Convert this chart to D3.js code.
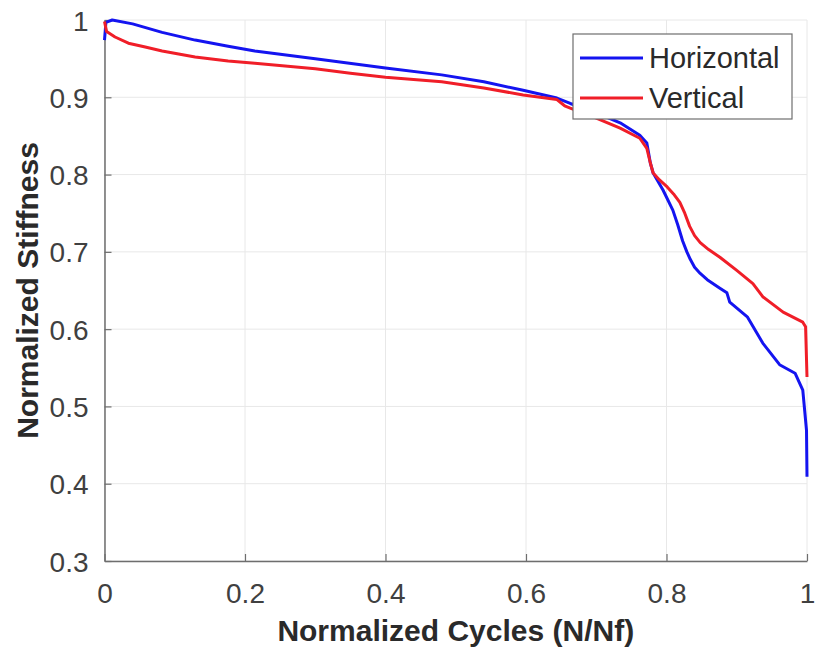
<!DOCTYPE html>
<html>
<head>
<meta charset="utf-8">
<script src="https://cdn.jsdelivr.net/npm/d3@7"></script>
<style>
  html, body { margin: 0; padding: 0; background: #fff; }
  svg { display: block; }
  text { font-family: "Liberation Sans", Arial, Helvetica, sans-serif; }
</style>
</head>
<body>
<svg id="chart" width="817" height="654"></svg>
<script>
// ---- Data ----
const horizontalX = [0, 0.002, 0.011, 0.04, 0.082, 0.129, 0.176, 0.214, 0.30, 0.40, 0.48, 0.54, 0.596, 0.644, 0.663, 0.70, 0.734, 0.762, 0.772, 0.777, 0.781, 0.795, 0.809, 0.816, 0.823, 0.829, 0.834, 0.840, 0.848, 0.858, 0.876, 0.886, 0.890, 0.915, 0.937, 0.961, 0.983, 0.994, 0.9993, 1.0];
const horizontalY = [0.974, 0.997, 1.0, 0.995, 0.984, 0.974, 0.966, 0.960, 0.950, 0.938, 0.929, 0.920, 0.909, 0.899, 0.892, 0.880, 0.867, 0.851, 0.841, 0.815, 0.802, 0.780, 0.754, 0.735, 0.714, 0.700, 0.690, 0.680, 0.672, 0.664, 0.653, 0.647, 0.635, 0.616, 0.582, 0.554, 0.543, 0.521, 0.469, 0.409];

const verticalX = [0, 0.003, 0.015, 0.034, 0.058, 0.082, 0.129, 0.176, 0.214, 0.30, 0.35, 0.40, 0.48, 0.54, 0.596, 0.644, 0.655, 0.663, 0.70, 0.734, 0.762, 0.772, 0.777, 0.781, 0.790, 0.801, 0.810, 0.819, 0.826, 0.833, 0.840, 0.848, 0.860, 0.876, 0.900, 0.923, 0.937, 0.966, 0.994, 0.998, 1.0];
const verticalY = [0.998, 0.985, 0.978, 0.970, 0.965, 0.960, 0.952, 0.947, 0.944, 0.937, 0.931, 0.926, 0.920, 0.912, 0.903, 0.897, 0.889, 0.886, 0.873, 0.860, 0.847, 0.834, 0.815, 0.802, 0.793, 0.784, 0.775, 0.764, 0.750, 0.733, 0.721, 0.712, 0.703, 0.693, 0.676, 0.659, 0.642, 0.622, 0.609, 0.603, 0.538];

const seriesNames = ["Horizontal", "Vertical"];
const seriesColors = ["#1414f0", "#f01e28"];
const xTicks = [0, 0.2, 0.4, 0.6, 0.8, 1];
const yTicks = [0.3, 0.4, 0.5, 0.6, 0.7, 0.8, 0.9, 1];
const xLabel = "Normalized Cycles (N/Nf)";
const yLabel = "Normalized Stiffness";

// ---- Layout ----
const svg = d3.select("#chart");
const mLeft = 104.5, mRight = 807, mTop = 20, mBottom = 561;

const x = d3.scaleLinear().domain([0, 1]).range([mLeft, mRight]);
const y = d3.scaleLinear().domain([0.3, 1]).range([mBottom, mTop]);

// grid
const grid = svg.append("g");
grid.selectAll("line.gx").data(xTicks).join("line")
  .attr("x1", d => x(d)).attr("x2", d => x(d))
  .attr("y1", mTop).attr("y2", mBottom)
  .attr("stroke", "#e8e8e8").attr("stroke-width", 1);
grid.selectAll("line.gy").data(yTicks).join("line")
  .attr("x1", mLeft).attr("x2", mRight)
  .attr("y1", d => y(d)).attr("y2", d => y(d))
  .attr("stroke", "#e8e8e8").attr("stroke-width", 1);

// axes
const fmt = d => d === 0 ? "0" : d === 1 ? "1" : d3.format(".1f")(d);
const xAxis = d3.axisBottom(x).tickValues(xTicks).tickFormat(fmt).tickSizeInner(-7).tickSizeOuter(0).tickPadding(22);
const yAxis = d3.axisLeft(y).tickValues(yTicks).tickFormat(fmt).tickSizeInner(-7).tickSizeOuter(0).tickPadding(16);

const gx = svg.append("g").attr("transform", `translate(0,${mBottom})`).call(xAxis);
const gy = svg.append("g").attr("transform", `translate(${mLeft},0)`).call(yAxis);
[gx, gy].forEach(g => {
  g.select(".domain").attr("stroke", "#6e6e6e").attr("stroke-width", 1.5);
  g.selectAll(".tick line").attr("stroke", "#6e6e6e").attr("stroke-width", 1.2);
  g.selectAll(".tick text").attr("fill", "#404040").attr("font-size", 28)
    .attr("font-family", "'Liberation Sans', Arial, sans-serif");
});
gx.selectAll(".tick text").attr("dy", "0.71em").attr("y", 22);
gy.selectAll(".tick text").attr("dy", "0.36em");

// lines
const line = d3.line().x(d => x(d[0])).y(d => y(d[1]));
const seriesData = [
  d3.zip(horizontalX, horizontalY),
  d3.zip(verticalX, verticalY)
];
seriesData.forEach((pts, i) => {
  svg.append("path").datum(pts)
    .attr("d", line)
    .attr("fill", "none")
    .attr("stroke", seriesColors[i])
    .attr("stroke-width", 3)
    .attr("stroke-linejoin", "round");
});

// axis labels
svg.append("text")
  .attr("x", (mLeft + mRight) / 2).attr("y", 641)
  .attr("text-anchor", "middle")
  .attr("font-size", 30).attr("font-weight", "bold").attr("fill", "#2a2a2a")
  .text(xLabel);
svg.append("text")
  .attr("transform", `translate(38,${(mTop + mBottom) / 2}) rotate(-90)`)
  .attr("text-anchor", "middle")
  .attr("font-size", 30).attr("font-weight", "bold").attr("fill", "#2a2a2a")
  .text(yLabel);

// legend
const lg = svg.append("g");
lg.append("rect").attr("x", 573).attr("y", 34).attr("width", 219).attr("height", 85)
  .attr("fill", "#fff").attr("stroke", "#6e6e6e").attr("stroke-width", 1.2);
seriesNames.forEach((name, i) => {
  const yy = 58 + i * 40;
  lg.append("line").attr("x1", 580).attr("x2", 643).attr("y1", yy).attr("y2", yy)
    .attr("stroke", seriesColors[i]).attr("stroke-width", 3);
  lg.append("text").attr("x", 649).attr("y", yy).attr("dy", "0.36em")
    .attr("font-size", 29).attr("fill", "#2a2a2a").text(name);
});
</script>
</body>
</html>
